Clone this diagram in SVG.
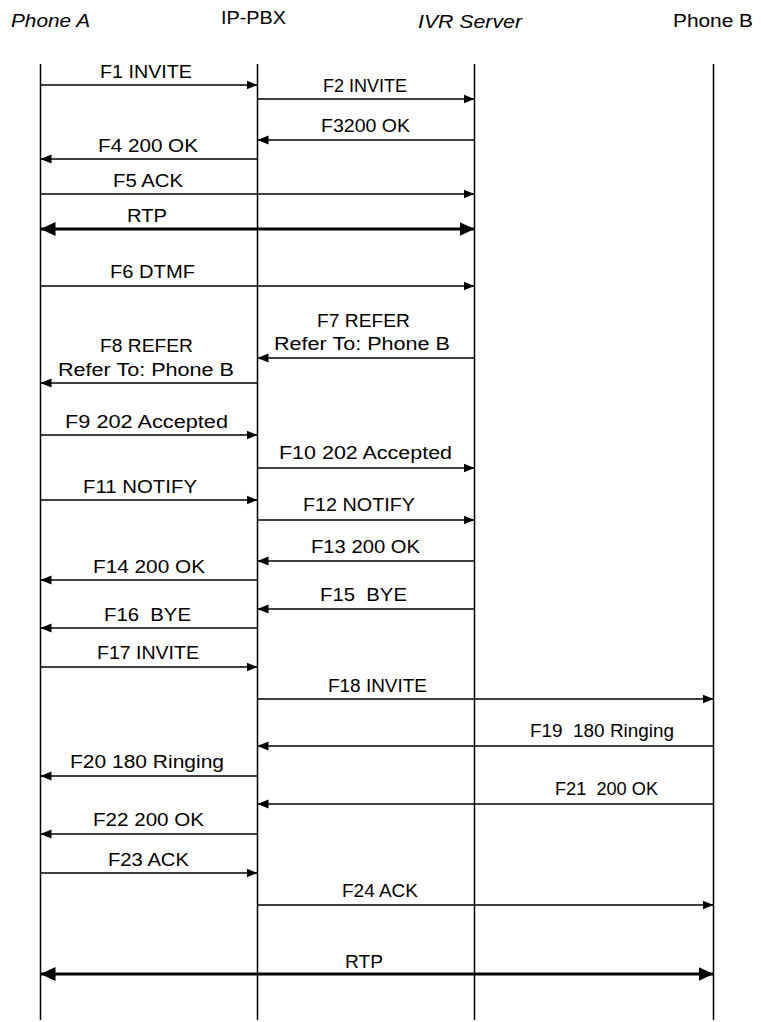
<svg xmlns="http://www.w3.org/2000/svg" width="761" height="1022" viewBox="0 0 761 1022">
<style>
  text { font-family: "Liberation Sans", Arial, sans-serif; font-size: 18px; fill: #000; white-space: pre; }
  .hdr { font-size: 18px; }
  .it { font-style: italic; }
  .life { stroke: #000; stroke-width: 1.5; fill: none; }
  .msg { stroke: #000; stroke-width: 1.7; fill: none; marker-end: url(#ah); }
  .rtp { stroke: #000; stroke-width: 3.2; fill: none; marker-end: url(#ahb); marker-start: url(#ahb); }
</style>
<defs>
  <marker id="ah" markerUnits="userSpaceOnUse" markerWidth="12" markerHeight="10" refX="11" refY="5" orient="auto">
    <path d="M0,0.5 L11,5 L0,9.5 z" fill="#000"/>
  </marker>
  <marker id="ahb" markerUnits="userSpaceOnUse" markerWidth="16" markerHeight="14" refX="15" refY="7" orient="auto-start-reverse">
    <path d="M0,0 L15,7 L0,14 z" fill="#000"/>
  </marker>
</defs>
<rect width="761" height="1022" fill="#fff"/>

<g id="phoneA">
  <text class="hdr it" x="11" y="27" textLength="79" lengthAdjust="spacingAndGlyphs">Phone A</text>
  <line class="life" x1="40.5" y1="64" x2="40.5" y2="1020"/>
</g>
<g id="ippbx">
  <text class="hdr" x="221" y="24" textLength="65" lengthAdjust="spacingAndGlyphs">IP-PBX</text>
  <line class="life" x1="257.5" y1="64" x2="257.5" y2="1020"/>
</g>
<g id="ivr">
  <text class="hdr it" x="418" y="28" textLength="104" lengthAdjust="spacingAndGlyphs">IVR Server</text>
  <line class="life" x1="474.5" y1="64" x2="474.5" y2="1020"/>
</g>
<g id="phoneB">
  <text class="hdr" x="673" y="27" textLength="80" lengthAdjust="spacingAndGlyphs">Phone B</text>
  <line class="life" x1="713.5" y1="64" x2="713.5" y2="1020"/>
</g>

<g id="connectors">
  <line class="msg" x1="40.5" y1="85" x2="257.5" y2="85"/>
  <line class="msg" x1="257.5" y1="99" x2="474.5" y2="99"/>
  <line class="msg" x1="474.5" y1="140" x2="257.5" y2="140"/>
  <line class="msg" x1="257.5" y1="159" x2="40.5" y2="159"/>
  <line class="msg" x1="40.5" y1="194" x2="474.5" y2="194"/>
  <line class="rtp" x1="40.5" y1="229" x2="474.5" y2="229"/>
  <line class="msg" x1="40.5" y1="286" x2="474.5" y2="286"/>
  <line class="msg" x1="474.5" y1="358" x2="257.5" y2="358"/>
  <line class="msg" x1="257.5" y1="383" x2="40.5" y2="383"/>
  <line class="msg" x1="40.5" y1="435" x2="257.5" y2="435"/>
  <line class="msg" x1="257.5" y1="468" x2="474.5" y2="468"/>
  <line class="msg" x1="40.5" y1="500" x2="257.5" y2="500"/>
  <line class="msg" x1="257.5" y1="520" x2="474.5" y2="520"/>
  <line class="msg" x1="474.5" y1="561" x2="257.5" y2="561"/>
  <line class="msg" x1="257.5" y1="580" x2="40.5" y2="580"/>
  <line class="msg" x1="474.5" y1="609" x2="257.5" y2="609"/>
  <line class="msg" x1="257.5" y1="628" x2="40.5" y2="628"/>
  <line class="msg" x1="40.5" y1="667" x2="257.5" y2="667"/>
  <line class="msg" x1="257.5" y1="699" x2="713.5" y2="699"/>
  <line class="msg" x1="713.5" y1="746" x2="257.5" y2="746"/>
  <line class="msg" x1="257.5" y1="776" x2="40.5" y2="776"/>
  <line class="msg" x1="713.5" y1="804" x2="257.5" y2="804"/>
  <line class="msg" x1="257.5" y1="834" x2="40.5" y2="834"/>
  <line class="msg" x1="40.5" y1="873" x2="257.5" y2="873"/>
  <line class="msg" x1="257.5" y1="905" x2="713.5" y2="905"/>
  <line class="rtp" x1="40.5" y1="974" x2="713.5" y2="974"/>
</g>

<g id="labels">
  <text x="100" y="78" textLength="92" lengthAdjust="spacingAndGlyphs">F1 INVITE</text>
  <text x="323" y="92" textLength="84" lengthAdjust="spacingAndGlyphs">F2 INVITE</text>
  <text x="321" y="132" textLength="89" lengthAdjust="spacingAndGlyphs">F3200 OK</text>
  <text x="98" y="152" textLength="100" lengthAdjust="spacingAndGlyphs">F4 200 OK</text>
  <text x="113" y="187" textLength="70" lengthAdjust="spacingAndGlyphs">F5 ACK</text>
  <text x="127" y="222" textLength="40" lengthAdjust="spacingAndGlyphs">RTP</text>
  <text x="110" y="278" textLength="85" lengthAdjust="spacingAndGlyphs">F6 DTMF</text>
  <text x="317" y="327" textLength="93" lengthAdjust="spacingAndGlyphs">F7 REFER</text>
  <text x="274" y="350" textLength="176" lengthAdjust="spacingAndGlyphs">Refer To: Phone B</text>
  <text x="100" y="352" textLength="93" lengthAdjust="spacingAndGlyphs">F8 REFER</text>
  <text x="58" y="376" textLength="176" lengthAdjust="spacingAndGlyphs">Refer To: Phone B</text>
  <text x="65" y="428" textLength="163" lengthAdjust="spacingAndGlyphs">F9 202 Accepted</text>
  <text x="279" y="459" textLength="173" lengthAdjust="spacingAndGlyphs">F10 202 Accepted</text>
  <text x="83" y="493" textLength="114" lengthAdjust="spacingAndGlyphs">F11 NOTIFY</text>
  <text x="303" y="511" textLength="112" lengthAdjust="spacingAndGlyphs">F12 NOTIFY</text>
  <text x="311" y="553" textLength="109" lengthAdjust="spacingAndGlyphs">F13 200 OK</text>
  <text x="93" y="573" textLength="112" lengthAdjust="spacingAndGlyphs">F14 200 OK</text>
  <text x="320" y="601" textLength="87" lengthAdjust="spacingAndGlyphs">F15  BYE</text>
  <text x="104" y="621" textLength="87" lengthAdjust="spacingAndGlyphs">F16  BYE</text>
  <text x="97" y="659" textLength="102" lengthAdjust="spacingAndGlyphs">F17 INVITE</text>
  <text x="328" y="692" textLength="99" lengthAdjust="spacingAndGlyphs">F18 INVITE</text>
  <text x="530" y="737" textLength="144" lengthAdjust="spacingAndGlyphs">F19  180 Ringing</text>
  <text x="70" y="768" textLength="154" lengthAdjust="spacingAndGlyphs">F20 180 Ringing</text>
  <text x="555" y="795" textLength="103" lengthAdjust="spacingAndGlyphs">F21  200 OK</text>
  <text x="93" y="826" textLength="111" lengthAdjust="spacingAndGlyphs">F22 200 OK</text>
  <text x="108" y="866" textLength="81" lengthAdjust="spacingAndGlyphs">F23 ACK</text>
  <text x="342" y="897" textLength="76" lengthAdjust="spacingAndGlyphs">F24 ACK</text>
  <text x="345" y="968" textLength="38" lengthAdjust="spacingAndGlyphs">RTP</text>
</g>
</svg>
